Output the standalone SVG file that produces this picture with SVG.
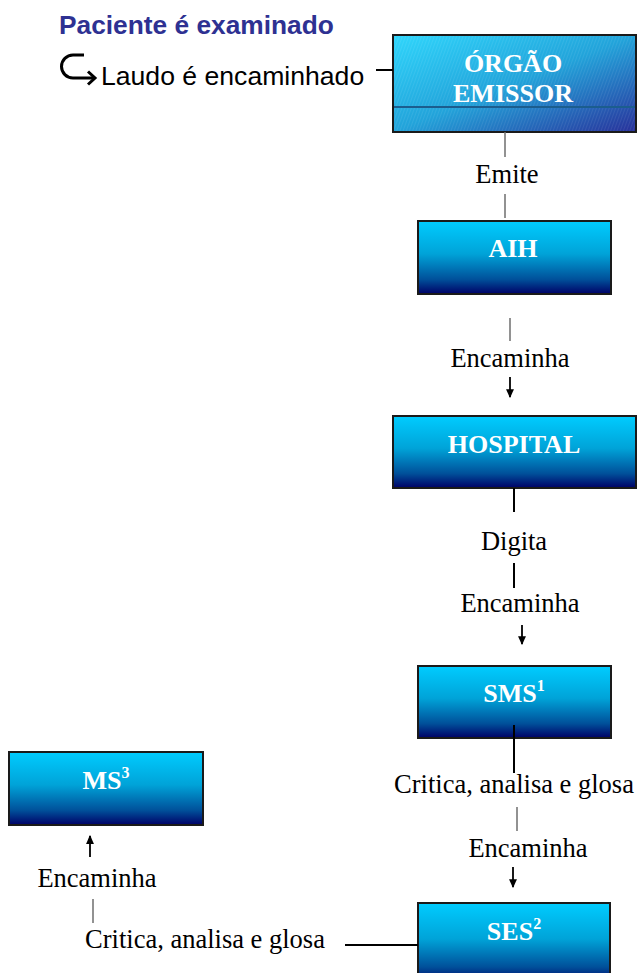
<svg xmlns="http://www.w3.org/2000/svg" width="638" height="973" viewBox="0 0 638 973">
<defs>
<linearGradient id="boxGrad" x1="0" y1="0" x2="0" y2="1">
<stop offset="0" stop-color="#00ccff"/>
<stop offset="0.45" stop-color="#00a3d8"/>
<stop offset="0.8" stop-color="#00509a"/>
<stop offset="1" stop-color="#000066"/>
</linearGradient>
<linearGradient id="emGrad" x1="0" y1="0" x2="1" y2="1">
<stop offset="0" stop-color="#2fd6fc"/>
<stop offset="0.5" stop-color="#22a3da"/>
<stop offset="1" stop-color="#28309a"/>
</linearGradient>
<pattern id="hatch" width="3" height="3" patternUnits="userSpaceOnUse" patternTransform="rotate(20)">
<line x1="0" y1="0" x2="0" y2="3" stroke="#ffffff" stroke-opacity="0.15" stroke-width="1"/>
</pattern>
<marker id="ah" viewBox="0 0 8 8" refX="7" refY="4" markerWidth="9" markerHeight="9" markerUnits="userSpaceOnUse" orient="auto">
<path d="M0,0.5 L8,4 L0,7.5 Z" fill="#000"/>
</marker>
<style>
.box{fill:url(#boxGrad);stroke:#1a1a1a;stroke-width:2}
.bl{font-family:"Liberation Serif","Times New Roman",serif;font-weight:bold;font-size:26px;fill:#ffffff;text-anchor:middle}
.lb{font-family:"Liberation Serif","Times New Roman",serif;font-size:26.5px;fill:#000;text-anchor:middle}
.gl{stroke:#6e6e6e;stroke-width:1.5;fill:none}
.kl{stroke:#000;stroke-width:2;fill:none}
.ar{stroke:#000;stroke-width:1.8;fill:none;marker-end:url(#ah)}
</style>
</defs>
<rect width="638" height="973" fill="#ffffff"/>

<g id="intro">
<text x="59" y="34" font-family="'Liberation Sans',Arial,sans-serif" font-weight="bold" font-size="26.3px" fill="#2e3192">Paciente é examinado</text>
<path d="M84,55 H73 A11.5,11.5 0 0 0 73,78 H94" fill="none" stroke="#000" stroke-width="3"/>
<polyline points="88,71.5 95,78 88,84.5" fill="none" stroke="#000" stroke-width="3"/>
<text x="101" y="85" font-family="'Liberation Sans',Arial,sans-serif" font-size="26.6px" fill="#000">Laudo é encaminhado</text>
</g>

<g id="orgao-emissor">
<rect x="393" y="35" width="243" height="97" fill="url(#emGrad)"/>
<rect x="393" y="35" width="243" height="97" fill="url(#hatch)"/>
<line x1="393" y1="107" x2="636" y2="107" stroke="#1b5d8e" stroke-width="2"/>
<rect x="393" y="35" width="243" height="97" fill="none" stroke="#1a1a1a" stroke-width="2"/>
<text class="bl" x="513" y="72">ÓRGÃO</text>
<text class="bl" x="513" y="102">EMISSOR</text>
</g>

<g id="aih">
<rect class="box" x="418" y="221" width="193" height="73"/>
<text class="bl" x="513" y="257">AIH</text>
</g>

<g id="hospital">
<rect class="box" x="393" y="416" width="243" height="72"/>
<text class="bl" x="514" y="453">HOSPITAL</text>
</g>

<g id="sms">
<rect class="box" x="418" y="666" width="193" height="72"/>
<text class="bl" x="514" y="702">SMS<tspan font-size="16px" dy="-11">1</tspan></text>
</g>

<g id="ses">
<rect class="box" x="418" y="903" width="192" height="80"/>
<text class="bl" x="514" y="940">SES<tspan font-size="16px" dy="-11">2</tspan></text>
</g>

<g id="ms">
<rect class="box" x="9" y="752" width="194" height="73"/>
<text class="bl" x="106" y="789">MS<tspan font-size="16px" dy="-11">3</tspan></text>
</g>

<g id="connectors">
<line class="kl" x1="376" y1="70" x2="393" y2="70" stroke-width="3"/>
<line class="gl" x1="505" y1="132" x2="505" y2="157"/>
<line class="gl" x1="505" y1="194" x2="505" y2="218"/>
<line class="gl" x1="510" y1="318" x2="510" y2="341"/>
<line class="ar" x1="510" y1="377" x2="510" y2="397"/>
<line class="kl" x1="514" y1="488" x2="514" y2="512"/>
<line class="kl" x1="514" y1="563" x2="514" y2="588"/>
<line class="ar" x1="522" y1="625" x2="522" y2="644"/>
<line class="kl" x1="514" y1="725" x2="514" y2="773"/>
<line class="gl" x1="517" y1="807" x2="517" y2="831"/>
<line class="ar" x1="513" y1="867" x2="513" y2="887"/>
<line class="kl" x1="345" y1="945" x2="418" y2="945"/>
<line class="gl" x1="93" y1="899" x2="93" y2="923"/>
<line class="ar" x1="90" y1="857" x2="90" y2="836"/>
<text class="lb" x="507" y="183">Emite</text>
<text class="lb" x="510" y="367">Encaminha</text>
<text class="lb" x="514" y="550">Digita</text>
<text class="lb" x="520" y="612">Encaminha</text>
<text class="lb" x="514" y="793">Critica, analisa e glosa</text>
<text class="lb" x="528" y="857">Encaminha</text>
<text class="lb" x="97" y="887">Encaminha</text>
<text class="lb" x="205" y="948">Critica, analisa e glosa</text>
</g>
</svg>
